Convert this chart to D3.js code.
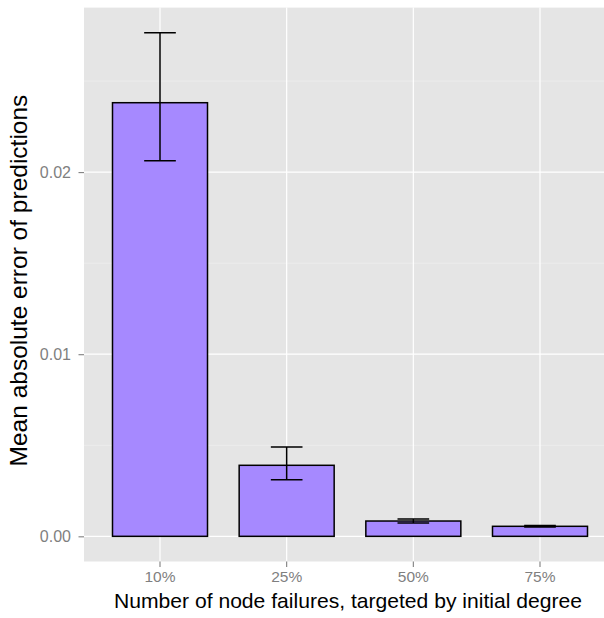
<!DOCTYPE html>
<html>
<head>
<meta charset="utf-8">
<script src="https://cdn.jsdelivr.net/npm/d3@7"></script>
<style>
  html, body { margin: 0; padding: 0; background: #ffffff; }
  svg { display: block; }
  text { font-family: "Liberation Sans", Arial, Helvetica, sans-serif; }
</style>
</head>
<body>
<div id="chart"></div>
<script>
// Failure levels and the mean absolute error for each, with error-bar bounds
const categories = ["10%", "25%", "50%", "75%"];
const meanError  = [0.02381, 0.00390, 0.00084, 0.00055];
const lowerBound = [0.02062, 0.00310, 0.00073, 0.00051];
const upperBound = [0.02765, 0.00490, 0.00095, 0.00060];
const yTicks      = [0, 0.01, 0.02];
const yTickLabels = ["0.00", "0.01", "0.02"];
const yMinorTicks = [0.005, 0.015, 0.025];

const width = 604, height = 618;
const panel = { left: 84, right: 616, top: 7.6, bottom: 561.5 };

const svg = d3.select("#chart").append("svg")
  .attr("width", width).attr("height", height);

// scale a text element's font so that it spans the given length
function fitText(sel, target) {
  const fs = parseFloat(sel.attr("font-size"));
  const len = sel.node().getComputedTextLength();
  if (len > 0) sel.attr("font-size", (fs * target / len).toFixed(2) + "px");
}

// y domain padded by 5% of the data span, as in ggplot's default expansion
const yMax = d3.max(upperBound);
const pad = yMax * 0.05;
const y = d3.scaleLinear().domain([-pad, yMax + pad]).range([panel.bottom, panel.top]);

const x = d3.scaleBand().domain(categories)
  .range([panel.left, panel.right])
  .paddingInner(0.25).paddingOuter(0.225);
const xc = c => x(c) + x.bandwidth() / 2;

// panel background
svg.append("rect")
  .attr("x", panel.left).attr("y", panel.top)
  .attr("width", panel.right - panel.left).attr("height", panel.bottom - panel.top)
  .attr("fill", "#e5e5e5");

// minor grid
svg.append("g").selectAll("line").data(yMinorTicks).join("line")
  .attr("x1", panel.left).attr("x2", panel.right)
  .attr("y1", d => y(d)).attr("y2", d => y(d))
  .attr("stroke", "#f2f2f2").attr("stroke-width", 0.6);

// major grid
svg.append("g").selectAll("line").data(yTicks).join("line")
  .attr("x1", panel.left).attr("x2", panel.right)
  .attr("y1", d => y(d)).attr("y2", d => y(d))
  .attr("stroke", "#ffffff").attr("stroke-width", 1.2);
svg.append("g").selectAll("line").data(categories).join("line")
  .attr("x1", d => xc(d)).attr("x2", d => xc(d))
  .attr("y1", panel.top).attr("y2", panel.bottom)
  .attr("stroke", "#ffffff").attr("stroke-width", 1.2);

// bars
const rows = categories.map((c, i) => ({ c, v: meanError[i], lo: lowerBound[i], hi: upperBound[i] }));
svg.append("g").selectAll("rect").data(rows).join("rect")
  .attr("x", d => x(d.c)).attr("width", x.bandwidth())
  .attr("y", d => y(d.v)).attr("height", d => y(0) - y(d.v))
  .attr("fill", "#a689ff").attr("stroke", "#000000").attr("stroke-width", 1.5);

// error bars
const capHalf = x.step() * 0.125;
const eb = svg.append("g").attr("stroke", "#000000").attr("stroke-width", 1.5).attr("fill", "none");
eb.selectAll("path").data(rows).join("path")
  .attr("d", d => {
    const cx = xc(d.c), t = y(d.hi), b = y(d.lo);
    return `M${cx - capHalf},${t}H${cx + capHalf}M${cx},${t}V${b}M${cx - capHalf},${b}H${cx + capHalf}`;
  });

// y axis
const yAxis = d3.axisLeft(y).tickValues(yTicks).tickFormat((d, i) => yTickLabels[i])
  .tickSize(5.5).tickPadding(7.5);
const gy = svg.append("g").attr("transform", `translate(${panel.left},0)`).call(yAxis);
gy.select(".domain").remove();
gy.selectAll(".tick line").attr("stroke", "#7f7f7f").attr("stroke-width", 1.1);
gy.selectAll(".tick text").attr("fill", "#7f7f7f").attr("font-size", "16px")
  .attr("font-family", "'Liberation Sans', Arial, sans-serif");

// x axis
const xAxis = d3.axisBottom(x).tickSize(5.5).tickPadding(4);
const gx = svg.append("g").attr("transform", `translate(0,${panel.bottom})`).call(xAxis);
gx.select(".domain").remove();
gx.selectAll(".tick line").attr("stroke", "#7f7f7f").attr("stroke-width", 1.1);
gx.selectAll(".tick text").attr("fill", "#7f7f7f").attr("font-size", "15.5px")
  .attr("font-family", "'Liberation Sans', Arial, sans-serif");

// axis titles
const xTitle = svg.append("text")
  .attr("x", 348).attr("y", 608)
  .attr("text-anchor", "middle").attr("font-size", "20px").attr("fill", "#000000")
  .text("Number of node failures, targeted by initial degree");
fitText(xTitle, 468);

const yTitle = svg.append("text")
  .attr("transform", `translate(27,${(panel.top + panel.bottom) / 2 - 4}) rotate(-90)`)
  .attr("text-anchor", "middle").attr("font-size", "20px").attr("fill", "#000000")
  .text("Mean absolute error of predictions");
fitText(yTitle, 372);
</script>
</body>
</html>
